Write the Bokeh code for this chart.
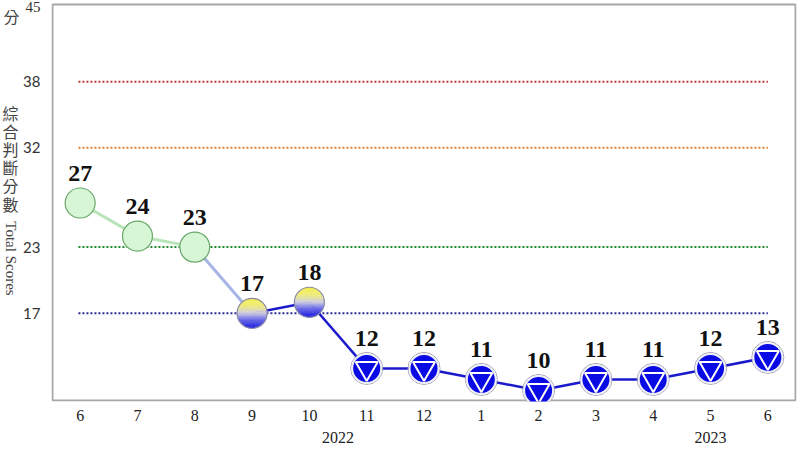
import numpy as np
from bokeh.plotting import figure
from bokeh.layouts import row
from bokeh.models import FixedTicker, LinearAxis, Range1d
from bokeh.core.properties import value
from bokeh.embed import file_html
from bokeh.resources import INLINE

# ---- data ----
month_labels = ["6", "7", "8", "9", "10", "11", "12", "1", "2", "3", "4", "5", "6"]
scores = [27, 24, 23, 17, 18, 12, 12, 11, 10, 11, 11, 12, 13]
signals = ["green", "green", "green", "yb", "yb", "blue", "blue", "blue", "blue", "blue", "blue", "blue", "blue"]
year_labels = ["2022", "2023"]
year_pos = [4.5, 11]
y_ticks = [17, 23, 32, 38, 45]
y_tick_fonts = ["Lato", "Lato", "Lato", "Lato", "Liberation Serif"]
thresholds = [38, 32, 23, 17]
threshold_colors = ["#c0343a", "#e0802a", "#1f8a2a", "#2a2a9a"]
title_chars = ["綜", "合", "判", "斷", "分", "數"]

x = list(range(len(scores)))

W, H = 800, 450
LW = 42                  # width of the left label strip
BL, BR, BB = 9, 4, 49    # borders of main figure
TOPGAP = 4               # gap between canvas top and the y=45 border line
MW = W - LW
FW = MW - BL - BR
PH = H - BB - TOPGAP     # pixel height of the 9..45 box
X0, X1 = -0.5, len(scores) - 0.5
Y0, Y1 = 9, 45
YTOP = Y1 + TOPGAP / PH * (Y1 - Y0)   # data value at canvas top


def dy(py):
    """canvas pixel y (from top) -> data y of the main scale"""
    return Y0 + (H - BB - py) / PH * (Y1 - Y0)


# ---------- main figure ----------
p = figure(width=MW, height=H, output_backend="svg", toolbar_location=None,
           x_range=Range1d(X0, X1), y_range=Range1d(Y0, YTOP), y_axis_location=None,
           min_border_left=BL, min_border_right=BR, min_border_top=0, min_border_bottom=BB)
p.background_fill_color = "white"
p.border_fill_color = "white"
p.outline_line_color = None
p.grid.visible = False

p.xaxis.ticker = FixedTicker(ticks=x)
p.xaxis.major_label_overrides = {i: lab for i, lab in enumerate(month_labels)}
p.xaxis.axis_line_color = None
p.xaxis.major_tick_line_color = None
p.xaxis.minor_tick_line_color = None
p.xaxis.major_tick_out = 0
p.xaxis.major_tick_in = 0
p.xaxis.major_label_text_font = "Liberation Serif"
p.xaxis.major_label_text_font_size = "16px"
p.xaxis.major_label_text_color = "#222222"
p.xaxis.major_label_standoff = 8

yr_axis = LinearAxis(ticker=FixedTicker(ticks=year_pos),
                     major_label_overrides={xp: yl for xp, yl in zip(year_pos, year_labels)},
                     axis_line_color=None, major_tick_line_color=None, minor_tick_line_color=None,
                     major_tick_out=0, major_tick_in=0, major_label_standoff=8,
                     major_label_text_font="Liberation Serif", major_label_text_font_size="16px",
                     major_label_text_color="#222222")
p.add_layout(yr_axis, "below")

# plot-area border (box from 9 to 45, inset by one pixel so the 2px line is whole)
px_x = (X1 - X0) / FW
px_y = (Y1 - Y0) / PH
p.quad(left=[X0 + px_x], right=[X1 - px_x], bottom=[Y0 + px_y], top=[Y1],
       fill_color=None, line_color="#a8a8a8", line_width=2)

# threshold dotted lines
for th, col in zip(thresholds, threshold_colors):
    p.segment(x0=[x[0] - 0.03], y0=[th], x1=[x[-1]], y1=[th], line_color=col,
              line_width=2, line_dash="2 2")

# connecting segments
seg_col, seg_w = [], []
for i in range(len(scores) - 1):
    a, b = signals[i], signals[i + 1]
    if a == "green" and b == "green":
        seg_col.append("#b8e4b8"); seg_w.append(3)
    elif a == "green":
        seg_col.append("#a6b4e6"); seg_w.append(3)
    else:
        seg_col.append("#1a1acc"); seg_w.append(2.5)
p.segment(x0=x[:-1], y0=scores[:-1], x1=x[1:], y1=scores[1:], line_color=seg_col,
          line_width=seg_w)

R = 15
rx = R * px_x
ry = R * px_y

# green markers
gx = [xi for xi, s in zip(x, signals) if s == "green"]
gy = [v for v, s in zip(scores, signals) if s == "green"]
p.scatter(gx, gy, size=2 * R, fill_color="#d6f6d6", line_color="#6aa86a", line_width=1.2)

# yellow-blue gradient markers (horizontal bands)
def hex2rgb(h):
    return np.array([int(h[i:i + 2], 16) for i in (1, 3, 5)], dtype=float)

stops = [(0.0, hex2rgb("#f6f04a")), (0.28, hex2rgb("#eeea80")), (0.5, hex2rgb("#cfcfe2")),
         (0.72, hex2rgb("#6a6ae8")), (1.0, hex2rgb("#1a1ae0"))]

def grad(t):
    for (t0, c0), (t1, c1) in zip(stops[:-1], stops[1:]):
        if t <= t1:
            f = (t - t0) / (t1 - t0)
            c = c0 + (c1 - c0) * f
            return "#%02x%02x%02x" % tuple(int(round(v)) for v in c)
    return "#1a1ae0"

NB = 18
bx, by, bc = [], [], []
for xi, v, s in zip(x, scores, signals):
    if s != "yb":
        continue
    for k in range(NB):
        v0 = 1 - 2 * k / NB
        v1 = 1 - 2 * (k + 1) / NB
        vs = np.linspace(v0, v1, 6)
        right_x = xi + rx * np.sqrt(np.clip(1 - vs ** 2, 0, 1))
        left_x = xi - rx * np.sqrt(np.clip(1 - vs[::-1] ** 2, 0, 1))
        px = np.concatenate([right_x, left_x])
        py = np.concatenate([v + ry * vs, v + ry * vs[::-1]])
        bx.append(list(px)); by.append(list(py)); bc.append(grad((k + 0.5) / NB))
p.patches(bx, by, fill_color=bc, line_color=bc, line_width=0.5)
yx = [xi for xi, s in zip(x, signals) if s == "yb"]
yy = [v for v, s in zip(scores, signals) if s == "yb"]
p.scatter(yx, yy, size=2 * R, fill_color=None, line_color="#8a8aa8", line_width=1.2)

# blue markers
bxs = [xi for xi, s in zip(x, signals) if s == "blue"]
bys = [v for v, s in zip(scores, signals) if s == "blue"]
p.scatter(bxs, bys, size=2 * R + 2, fill_color=None, line_color="#a0a0b4", line_width=1)
p.scatter(bxs, bys, size=2 * R - 1, fill_color="#0a0ae4", line_color="#eeeef6", line_width=2)
p.scatter(bxs, bys, marker="inverted_triangle", size=22, fill_color=None,
          line_color="white", line_width=2)

# value labels
p.text(x=x, y=scores, text=[str(v) for v in scores], y_offset=-30,
       text_align="center", text_baseline="middle",
       text_font=value("Liberation Serif"), text_font_style="bold",
       text_font_size="24px", text_color="#111111")

# ---------- left strip: titles and y tick labels on the same y scale ----------
q = figure(width=LW, height=H, output_backend="svg", toolbar_location=None,
           x_range=Range1d(0, LW), y_range=Range1d(Y0, YTOP),
           x_axis_location=None, y_axis_location=None,
           min_border_left=0, min_border_right=0, min_border_top=0, min_border_bottom=BB)
q.outline_line_color = None
q.grid.visible = False
q.background_fill_color = "white"
q.border_fill_color = "white"

q.text(x=[40] * len(y_ticks), y=y_ticks, text=[str(t) for t in y_ticks],
       text_font=y_tick_fonts,
       text_align="right", text_baseline="middle", text_font_size="15px",
       text_color="#333333", y_offset=[0, 0, 0, 0, 2])
q.text(x=[11], y=[dy(15)], text=["分"], text_align="center", text_baseline="middle",
       text_font=value("Noto Sans CJK TC"), text_font_size="16px", text_color="#444444")
q.text(x=[10] * len(title_chars), y=[dy(112 + 18.2 * i) for i in range(len(title_chars))],
       text=title_chars, text_align="center", text_baseline="middle",
       text_font=value("Noto Sans CJK TC"), text_font_size="16px", text_color="#444444")
q.text(x=[10], y=[dy(258)], text=["Total Scores"], angle=-np.pi / 2,
       text_align="center", text_baseline="middle",
       text_font=value("Liberation Serif"), text_font_size="15px", text_color="#444444")

layout = row(q, p, spacing=0)
open("out.html", "w").write(file_html(layout, INLINE))
